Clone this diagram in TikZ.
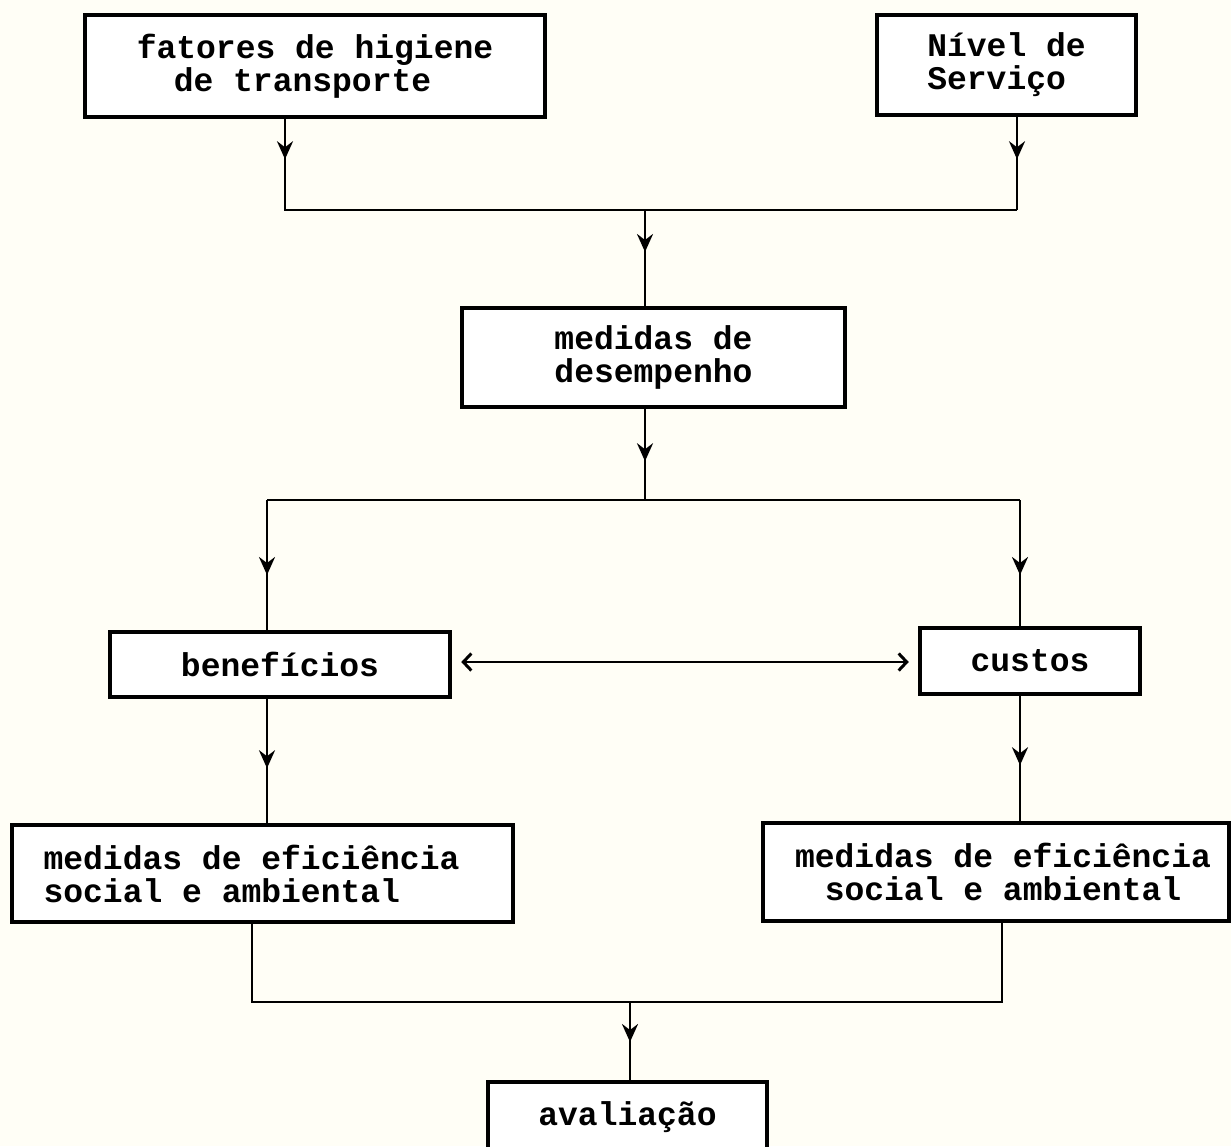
\documentclass[tikz,border=0pt]{standalone}
\usepackage{fontspec}
\newfontfamily\typew{Liberation Mono}
\usetikzlibrary{arrows.meta,decorations.markings,calc}
\definecolor{paper}{RGB}{255,254,246}
\tikzset{
  box/.style={draw=black, line width=4.5pt, fill=white, inner sep=0pt,
    font=\typew\bfseries\fontsize{33}{33}\selectfont},
  conn/.style={draw=black, line width=2.8pt},
  mk/.style={postaction={decorate, decoration={markings,
     mark=at position #1pt with {\arrow{Stealth[length=18pt,width=16pt,inset=6pt]}}}}},
  dbl/.style={draw=black, line width=2.2pt,
    {Straight Barb[length=8pt,width=17pt,line width=3pt,sep=9pt]}-{Straight Barb[length=8pt,width=17pt,line width=3pt,sep=9pt]}},
}
\begin{document}
\begin{tikzpicture}[x=1pt,y=-1pt]
\useasboundingbox (0,0) rectangle (1231,1146);
\fill[paper] (0,0) rectangle (1231,1146);

\node[box, minimum width=460pt, minimum height=102pt, align=left] (b1) at (315,66)
  {fatores de higiene\\\hspace*{37pt}de transporte};
\node[box, minimum width=259pt, minimum height=100pt, align=left] (b2) at (1006.5,65)
  {Nível de\\Serviço};
\node[box, minimum width=383pt, minimum height=99pt, align=center] (b3) at (653.5,357.5)
  {medidas de\\desempenho};
\node[box, minimum width=340pt, minimum height=65pt] (b4) at (280,664.5) {benefícios};
\node[box, minimum width=220pt, minimum height=66pt] (b5) at (1030,661) {custos};
\node[box, minimum width=501pt, minimum height=97pt, align=left] (b6) at (262.5,873.5)
  {medidas de eficiência\hspace*{22pt}\\social e ambiental};
\node[box, minimum width=466pt, minimum height=98pt, align=center] (b7) at (996,872)
  {\hspace*{14pt}medidas de eficiência\\\hspace*{14pt}social e ambiental};
\node[box, minimum width=279pt, minimum height=70pt] (b8) at (627.5,1117) {avaliação};

\coordinate (jTL) at (285,210);
\coordinate (jTR) at (1017,210);
\coordinate (jA) at (645,210);
\coordinate (jBL) at (267,500);
\coordinate (jBR) at (1020,500);
\coordinate (jB) at (645,500);
\coordinate (jCL) at (252,1002);
\coordinate (jCR) at (1002,1002);
\coordinate (jC) at (630,1002);
\coordinate (dL) at ($(b4.east |- b5.west)+(0,1)$);
\coordinate (dR) at ($(b5.west)+(0,1)$);

\draw[conn, mk=40] (b1.south -| jTL) -- (jTL) -- (jTR);
\draw[conn, mk=42] (b2.south -| jTR) -- (jTR);
\draw[conn, mk=42] (jA) -- (b3.north -| jA);
\draw[conn, mk=52] (b3.south -| jB) -- (jB);
\draw[conn] (jBL) -- (jBR);
\draw[conn, mk=75] (jBL) -- (b4.north -| jBL);
\draw[conn, mk=75] (jBR) -- (b5.north -| jBR);
\draw[dbl] (dL) -- (dR);
\draw[conn, mk=69] (b4.south -| jBL) -- (b6.north -| jBL);
\draw[conn, mk=69] (b5.south -| jBR) -- (b7.north -| jBR);
\draw[conn] (b6.south -| jCL) -- (jCL) -- (jCR) -- (b7.south -| jCR);
\draw[conn, mk=40] (jC) -- (b8.north -| jC);
\end{tikzpicture}
\end{document}
